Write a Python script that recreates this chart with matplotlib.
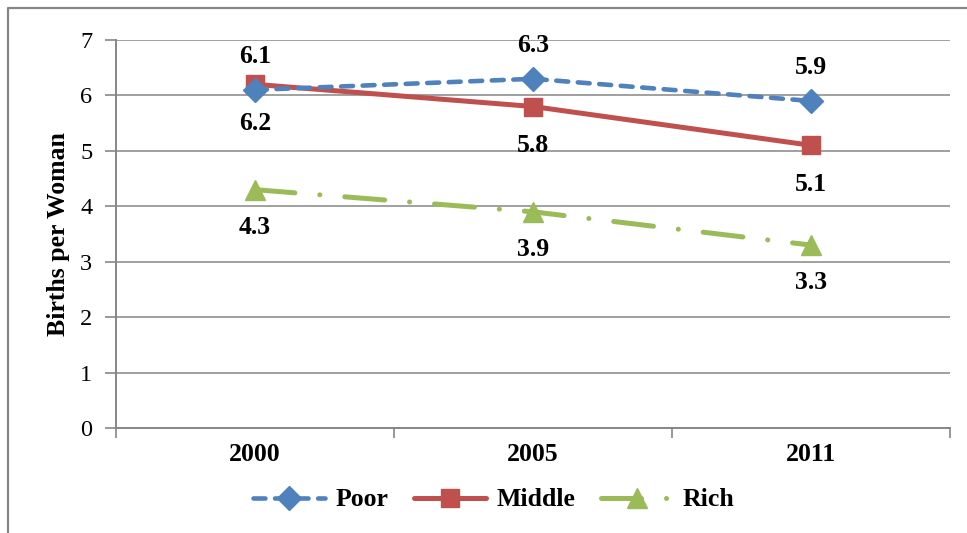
import matplotlib
matplotlib.use("Agg")
import matplotlib.pyplot as plt
from matplotlib.lines import Line2D

years = ["2000", "2005", "2011"]
poor = [6.1, 6.3, 5.9]
middle = [6.2, 5.8, 5.1]
rich = [4.3, 3.9, 3.3]
y_ticks = [0, 1, 2, 3, 4, 5, 6, 7]

plt.rcParams["font.family"] = ["Liberation Serif", "DejaVu Serif"]

W, H = 967, 533
fig = plt.figure(figsize=(W / 100, H / 100), dpi=100)
ax = fig.add_axes([116 / W, 1 - 428 / H, (950 - 116) / W, (428 - 40) / H])

grid_col = "#868686"
blue, red, green = "#4F81BD", "#C0504D", "#9BBB59"
x = list(range(len(years)))

ax.plot(x, poor, color=blue, lw=3.3, dashes=(2.6, 2.1), dash_capstyle="round",
        marker="D", ms=12, mec=blue, mfc=blue, label="Poor", zorder=4)
ax.plot(x, middle, color=red, lw=3.6, solid_capstyle="round",
        marker="s", ms=13, mec=red, mfc=red, label="Middle", zorder=3)
ax.plot(x, rich, color=green, lw=3.6, dashes=(8, 5, 0.01, 5), dash_capstyle="round",
        marker="^", ms=14, mec=green, mfc=green, label="Rich", zorder=3)

lab_kw = dict(textcoords="offset points", ha="center", va="center",
              fontsize=18.5, fontweight="bold")
for i in x:
    ax.annotate(f"{poor[i]:.1f}", (i, poor[i]), xytext=(0, 24), **lab_kw)
    ax.annotate(f"{middle[i]:.1f}", (i, middle[i]), xytext=(0, -28), **lab_kw)
    ax.annotate(f"{rich[i]:.1f}", (i, rich[i]), xytext=(0, -27), **lab_kw)

ax.set_xlim(-0.5, len(years) - 0.5)
ax.set_ylim(0, 7)
ax.set_yticks(y_ticks)
ax.set_yticklabels([str(t) for t in y_ticks], fontsize=17.5)
ax.set_xticks([i - 0.5 for i in range(len(years) + 1)])
ax.set_xticklabels([])
ax.set_xticks(x, minor=True)
ax.set_xticklabels(years, minor=True, fontsize=18.5, fontweight="bold")
ax.tick_params(axis="x", which="major", length=7, width=1.2, color=grid_col, direction="out")
ax.tick_params(axis="x", which="minor", length=0, pad=11)
ax.tick_params(axis="y", length=8, width=1.2, color=grid_col, direction="out", pad=9)

ax.grid(axis="y", color=grid_col, lw=1.1)
ax.set_axisbelow(True)
for s in ("top", "right"):
    ax.spines[s].set_visible(False)
for s in ("left", "bottom"):
    ax.spines[s].set_color(grid_col)
    ax.spines[s].set_linewidth(1.4)

ax.set_ylabel("Births per Woman", fontsize=18.5, fontweight="bold", labelpad=7)

leg = fig.legend(loc="center", bbox_to_anchor=(494 / W, 1 - 500 / H), ncol=3,
                 frameon=False, prop={"size": 18.5, "weight": "bold"},
                 handlelength=2.8, columnspacing=1.0, handletextpad=0.4)

# outer frame edges
fig.add_artist(Line2D([8 / W, 8 / W, 1.0], [0.0, 1 - 8 / H, 1 - 8 / H],
                      transform=fig.transFigure, color=grid_col, lw=1.6))

fig.savefig("out.png", dpi=100)
